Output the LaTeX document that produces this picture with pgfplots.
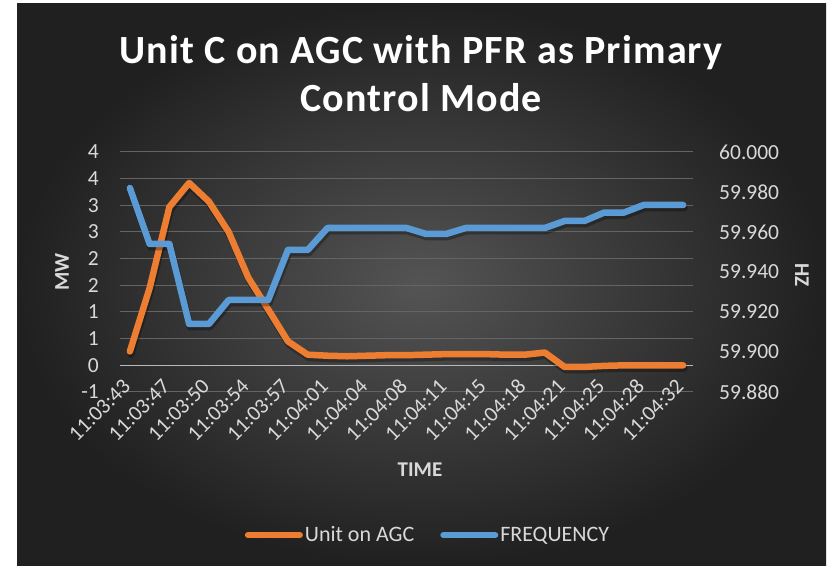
\documentclass[border=0pt]{standalone}
\usepackage{pgfplots}
\pgfplotsset{compat=1.18}
\usepackage{pgfplotstable}
\usepackage{fontspec}
\setmainfont{Carlito}
\newfontfamily\titlefont[LetterSpace=3.0]{Carlito}
\definecolor{bgdark}{RGB}{32,32,32}
\definecolor{bglight}{RGB}{84,84,84}
\definecolor{txt}{RGB}{217,217,217}
\definecolor{gridc}{RGB}{100,100,100}
\definecolor{zeroc}{RGB}{185,185,185}
\definecolor{agc}{RGB}{237,125,49}
\definecolor{freq}{RGB}{91,155,213}

\pgfplotstableread{
i mw hz
0 0.26 59.982
1 1.45 59.954
2 2.97 59.954
3 3.42 59.914
4 3.07 59.914
5 2.50 59.926
6 1.64 59.926
7 1.05 59.926
8 0.45 59.951
9 0.20 59.951
10 0.18 59.962
11 0.17 59.962
12 0.18 59.962
13 0.19 59.962
14 0.19 59.962
15 0.20 59.959
16 0.21 59.959
17 0.21 59.962
18 0.21 59.962
19 0.20 59.962
20 0.20 59.962
21 0.24 59.962
22 -0.03 59.9655
23 -0.03 59.9655
24 -0.01 59.9697
25 0.00 59.9697
26 0.00 59.9735
27 0.00 59.9735
28 0.00 59.9735
}\datatable

\begin{document}
\begin{tikzpicture}
\fill[white] (0pt,0pt) rectangle (833pt,570pt);
\shade[inner color=bglight, outer color=bgdark] (17pt,4pt) rectangle (826pt,566pt);
\node[font=\titlefont\fontsize{40}{48}\selectfont\bfseries, text=white, align=center] at (421pt,496pt)
  {Unit C on AGC with PFR as Primary\\Control Mode};

\begin{axis}[
  at={(120pt,178pt)}, anchor=south west,
  scale only axis, width=573pt, height=240pt,
  xmin=-0.5, xmax=28.5, ymin=-0.5, ymax=4,
  axis line style={draw=none},
  major tick length=0pt, tick style={draw=none},
  ytick={-0.5,0,0.5,1,1.5,2,2.5,3,3.5,4},
  yticklabels={-1,0,1,1,2,2,3,3,4,4},
  extra y ticks={0}, extra y tick labels={},
  extra y tick style={grid style={zeroc, line width=1.6pt}},
  ymajorgrids, grid style={gridc, line width=1pt},
  xtick={0,2,...,28},
  xticklabels={11:03:43,11:03:47,11:03:50,11:03:54,11:03:57,11:04:01,11:04:04,11:04:08,11:04:11,11:04:15,11:04:18,11:04:21,11:04:25,11:04:28,11:04:32},
  tick label style={font=\fontsize{21.5}{25}\selectfont, text=txt, inner sep=0pt},
  yticklabel style={anchor=east, xshift=-21pt},
  xticklabel style={xshift=-3pt, yshift=9pt, rotate=45, anchor=east},
  clip=false,
]
\addplot[black, opacity=0.3, line width=7pt, line join=round, line cap=round, yshift=-3pt, xshift=1pt] table[x=i, y=mw] {\datatable};
\addplot[agc, line width=6.5pt, line join=round, line cap=round] table[x=i, y=mw] {\datatable};
\end{axis}

\begin{axis}[
  at={(120pt,178pt)}, anchor=south west,
  scale only axis, width=573pt, height=240pt,
  xmin=-0.5, xmax=28.5, ymin=59.88, ymax=60.0,
  axis x line=none, axis y line*=right,
  axis line style={draw=none},
  major tick length=0pt, tick style={draw=none},
  ytick={59.88,59.90,59.92,59.94,59.96,59.98,60.00},
  yticklabels={59.880,59.900,59.920,59.940,59.960,59.980,60.000},
  tick label style={font=\fontsize{21.5}{25}\selectfont, text=txt, inner sep=0pt},
  yticklabel style={anchor=west, xshift=26pt},
  legend style={at={(0.5375,-0.596)}, anchor=center, draw=none, fill=none,
    legend columns=2, font=\fontsize{22}{26}\selectfont, text=txt,
    /tikz/every even column/.append style={column sep=24pt},
    legend cell align=left, inner sep=0pt},
  legend image code/.code={\draw[#1, line width=6pt, line cap=round] (0pt,0pt) -- (52pt,0pt);},
  clip=false,
]
\addlegendimage{agc}
\addlegendentry{Unit on AGC}
\addplot[black, opacity=0.3, line width=7pt, line join=round, line cap=round, yshift=-3pt, xshift=1pt, forget plot] table[x=i, y=hz] {\datatable};
\addplot[freq, line width=6.5pt, line join=round, line cap=round] table[x=i, y=hz] {\datatable};
\addlegendentry{FREQUENCY}
\end{axis}

\node[font=\fontsize{21}{25}\selectfont\bfseries, text=txt, rotate=90] at (62pt,298pt) {MW};
\node[font=\fontsize{21}{25}\selectfont\bfseries, text=txt, rotate=-90] at (802pt,295pt) {HZ};
\node[font=\fontsize{21}{25}\selectfont\bfseries, text=txt] at (420pt,100pt) {TIME};
\end{tikzpicture}
\end{document}
